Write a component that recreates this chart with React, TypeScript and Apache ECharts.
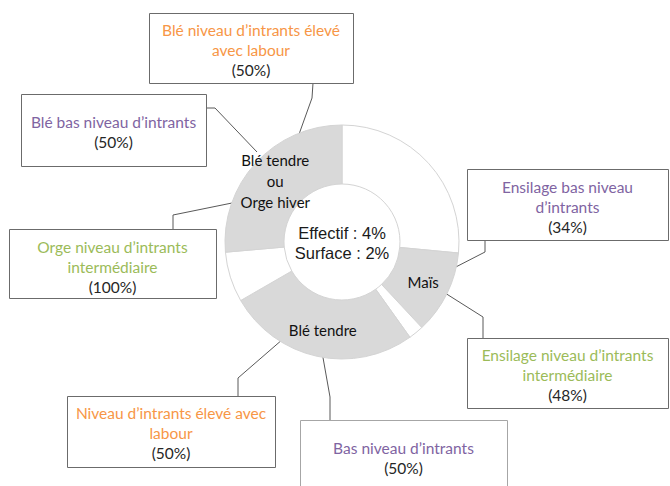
import React, { useEffect, useRef } from "react";
import * as echarts from "echarts";

// Slice data (angular shares of the ring)
const sliceNames = ["Autre 1", "Maïs", "Autre 2", "Blé tendre", "Autre 3", "Blé tendre\nou\nOrge hiver"];
const sliceValues = [95.4, 41.6, 7.5, 95.5, 25, 95];
const sliceFilled = [false, true, false, true, false, true];

const centerLines = ["Effectif : 4%", "Surface : 2%"];

// Annotation boxes
const boxTitles = [
  ["Blé niveau d’intrants élevé", "avec labour"],
  ["Blé bas niveau d’intrants"],
  ["Orge niveau d’intrants", "intermédiaire"],
  ["Ensilage bas niveau", "d’intrants"],
  ["Ensilage niveau d’intrants", "intermédiaire"],
  ["Niveau d’intrants élevé avec", "labour"],
  ["Bas niveau d’intrants"],
];
const boxPercents = ["(50%)", "(50%)", "(100%)", "(34%)", "(48%)", "(50%)", "(50%)"];

// Styling / layout (kept separate from data)
const ORANGE = "#F79646";
const PURPLE = "#8064A2";
const GREEN = "#9BBB59";
const boxColors = [ORANGE, PURPLE, GREEN, PURPLE, GREEN, ORANGE, PURPLE];
const boxLayout = [
  { x: 149, y: 13, w: 204, h: 70, top: 30, border: "#6b6b6b", leader: [[313, 83], [312, 98], [293, 151]] },
  { x: 21, y: 94, w: 185, h: 72, top: 122, border: "#6b6b6b", leader: [[206, 108], [215, 108], [257, 152]] },
  { x: 9, y: 229, w: 207, h: 69, top: 247, border: "#6b6b6b", leader: [[173, 229], [173, 215], [232, 203]] },
  { x: 467, y: 169, w: 201, h: 71, top: 187, border: "#6b6b6b", leader: [[485, 240], [485, 252], [448, 271]] },
  { x: 467, y: 338, w: 201, h: 70, top: 355, border: "#6b6b6b", leader: [[483, 338], [483, 317], [445, 293]] },
  { x: 67, y: 396, w: 208, h: 71, top: 413, border: "#6b6b6b", leader: [[238, 396], [238, 378], [283, 339]] },
  { x: 300, y: 420, w: 207, h: 80, top: 448, border: "#a6a6a6", leader: [[330, 420], [330, 397], [322, 352]] },
];

const FONT = "Lato";
const BOX_FONT = `15.5px ${FONT}`;

export default function App() {
  const ref = useRef<HTMLDivElement>(null);
  useEffect(() => {
    if (!ref.current) return;
    const chart = echarts.init(ref.current, null, { renderer: "svg" });

    const graphics: any[] = [];
    boxLayout.forEach((b, i) => {
      graphics.push({
        type: "polyline",
        silent: true,
        shape: { points: b.leader },
        style: { stroke: "#595959", lineWidth: 1, fill: null },
      });
      graphics.push({
        type: "rect",
        silent: true,
        shape: { x: b.x + 0.5, y: b.y + 0.5, width: b.w, height: b.h },
        style: { fill: "#fff", stroke: b.border, lineWidth: 1 },
      });
      const cx = b.x + b.w / 2;
      const lines = boxTitles[i];
      lines.forEach((t, j) => {
        graphics.push({
          type: "text",
          silent: true,
          style: {
            text: t,
            x: cx,
            y: b.top + j * 20,
            fill: boxColors[i],
            font: BOX_FONT,
            align: "center",
            verticalAlign: "middle",
          },
        });
      });
      graphics.push({
        type: "text",
        silent: true,
        style: {
          text: boxPercents[i],
          x: cx,
          y: b.top + lines.length * 20,
          fill: "#262626",
          font: BOX_FONT,
          align: "center",
          verticalAlign: "middle",
        },
      });
    });
    centerLines.forEach((t, j) => {
      graphics.push({
        type: "text",
        silent: true,
        style: {
          text: t,
          x: 342,
          y: 233 + j * 20,
          fill: "#1a1a1a",
          font: `16.5px "Liberation Sans"`,
          align: "center",
          verticalAlign: "middle",
        },
      });
    });

    chart.setOption({
      animation: false,
      backgroundColor: "#fff",
      series: [
        {
          type: "pie",
          silent: true,
          center: [342, 242],
          radius: [58, 117],
          startAngle: 90,
          clockwise: true,
          avoidLabelOverlap: false,
          emphasis: { disabled: true },
          label: {
            show: true,
            position: "inside",
            formatter: "{b}",
            color: "#111",
            fontFamily: FONT,
            fontSize: 15,
            lineHeight: 21,
          },
          labelLine: { show: false },
          data: sliceNames.map((n, i) => ({
            name: n,
            value: sliceValues[i],
            itemStyle: {
              color: sliceFilled[i] ? "#d9d9d9" : "#ffffff",
              borderColor: "#d4d4d4",
              borderWidth: 1,
            },
            label: { show: sliceFilled[i] },
          })),
        },
      ],
      graphic: graphics,
    });
    return () => chart.dispose();
  }, []);
  return (
    <div
      ref={ref}
      style={{ position: "absolute", left: 0, top: 0, width: 670, height: 486 }}
    />
  );
}
